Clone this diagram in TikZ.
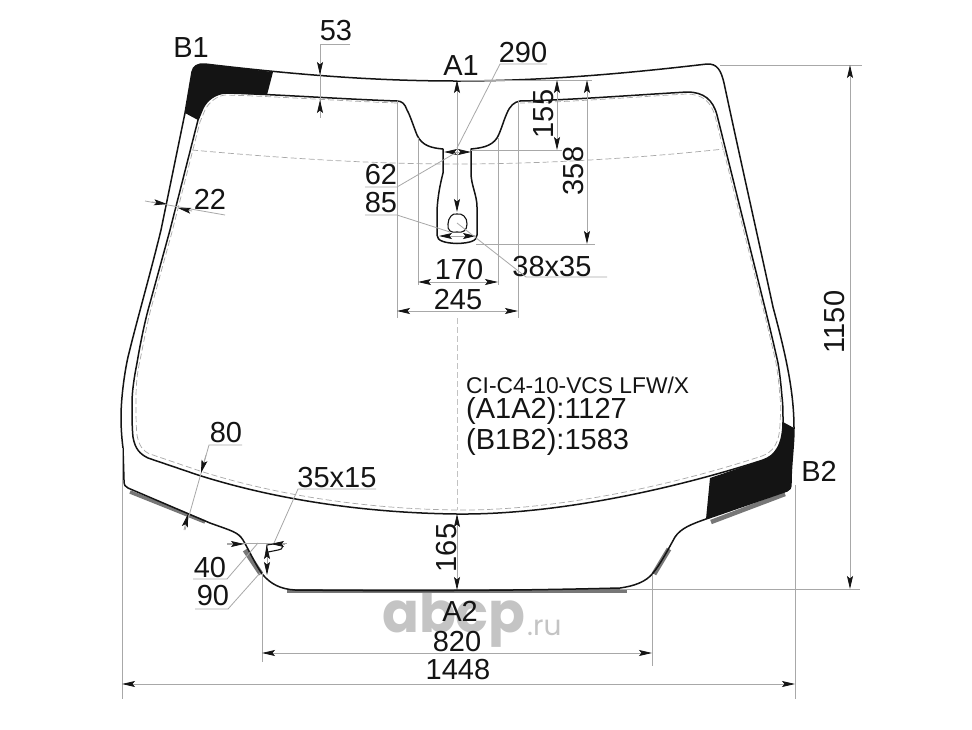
\documentclass[tikz,border=0pt]{standalone}
\usepackage{fontspec}
\setmainfont{Liberation Sans}
\newfontfamily\wmfont{Poppins}
\usetikzlibrary{arrows.meta}
\definecolor{dimgray}{HTML}{A8A8A8}
\definecolor{barcol}{HTML}{777777}
\definecolor{wmcol}{HTML}{C4C4C4}
\definecolor{blk}{HTML}{141414}
\tikzset{
 glass/.style={draw=blk,line width=1.5pt,line join=round},
 dimline/.style={draw=dimgray,line width=0.8pt},
 tip/.tip={Stealth[length=13pt,width=6pt,inset=2.5pt,color=blk]},
 both/.style={dimline,{tip}-{tip}},
 bar/.style={draw=barcol,line cap=butt},
 lbl/.style={font=\fontsize{29}{29}\selectfont,text=blk,inner sep=0pt},
 sml/.style={font=\fontsize{22.8}{23}\selectfont,text=blk,inner sep=0pt},
 fold/.style={draw=dimgray,line width=0.7pt,dash pattern=on 6pt off 3pt},
}
\begin{document}
\begin{tikzpicture}[x=1pt,y=-1pt]
\useasboundingbox (0,0) rectangle (972,729);
\fill[white] (0,0) rectangle (972,729);
% watermark
\node[inner sep=0pt,text=wmcol,anchor=base west,xscale=0.97,font=\wmfont\fontsize{56}{56}\selectfont\bfseries] (wm) at (382,632) {abcp};
\node[inner sep=0pt,text=wmcol,anchor=base west,font=\wmfont\fontsize{28}{28}\selectfont] (wmru) at (527,635) {.ru};
% dashed contours
\draw[fold] (192,150) .. controls (280,158) and (370,164) .. (457,164) .. controls (545,164) and (640,158) .. (724,149);
\draw[fold] (397,103) .. controls (340,101) and (270,96) .. (225,95) .. controls (217,96) and (209,102) .. (205,110) -- (200,122) -- (172,232) -- (152,305) .. controls (147,322) and (143,347) .. (139,365) .. controls (136,380) and (136,392) .. (136,403) .. controls (136,415) and (136,426) .. (137,435) .. controls (139,446) and (143,451) .. (150,454) -- (200,471) .. controls (282,497) and (372,509) .. (457,510) .. controls (560,511) and (680,483) .. (762,456) .. controls (773,452) and (780,443) .. (780,422) .. controls (781,410) and (781,405) .. (780,397) .. controls (779,385) and (778,375) .. (776,363) .. controls (772,345) and (766,320) .. (761,300) -- (715,116) .. controls (711,102) and (703,94) .. (686,94) .. controls (620,98) and (570,102) .. (520,103);
\draw[fold,draw=dimgray!70] (457,318) -- (457,510);
% black areas
\fill[blk] (273,72) -- (205,64) .. controls (198,63.5) and (193,66) .. (192,72) -- (185,113) -- (198,120) -- (203,108) .. controls (207,100) and (215,94) .. (225,93) -- (267,95) -- cycle;
\fill[blk] (706,519) -- (787,491) .. controls (790,490) and (791,488) .. (791,483) .. controls (791,465) and (794,445) .. (794,428) -- (783,422) .. controls (783,445) and (775,456) .. (763,460) -- (710,478) -- cycle;
% gray bars
\draw[bar,line width=3.5pt] (130,492) -- (205,522);
\draw[bar,line width=5pt] (245,550) -- (261,574);
\draw[bar,line width=3.5pt] (287,591) -- (627,591);
\draw[bar,line width=5pt] (654,574) -- (669,549);
\draw[bar,line width=4.5pt] (711,522) -- (785,494);
% outer contour
\draw[glass] (205,64) .. controls (290,74) and (370,81) .. (457,81) .. controls (545,81) and (630,73) .. (707,64) .. controls (717,63.5) and (721,70) .. (724,83) .. controls (740,158) and (757,233) .. (773,307) .. controls (785,352) and (794,390) .. (794,428) .. controls (794,445) and (791,465) .. (791,483) .. controls (791,488) and (790,490) .. (787,491) -- (706,519) .. controls (692,524) and (681,528) .. (675,537) .. controls (670,546) and (660,565) .. (653,573) .. controls (646,582) and (634,586) .. (620,588) .. controls (500,591) and (400,591) .. (295,590) .. controls (280,589) and (271,584) .. (263,575) .. controls (256,566) and (250,552) .. (243,540) .. controls (238,532) and (232,531) .. (210,523) -- (128,488) .. controls (125,487) and (124,485) .. (124,480) -- (123,448) .. controls (122,440) and (121,430) .. (121,417) .. controls (121,400) and (124,375) .. (128,357) .. controls (137,320) and (150,275) .. (161,230) -- (185,113) -- (192,72) .. controls (193,66) and (198,63.5) .. (205,64) -- cycle;
% inner contour
\draw[glass] (443,149) .. controls (432,148) and (422,146) .. (417,135) .. controls (413,125) and (410,115) .. (407,110) .. controls (405,104) and (402,101) .. (397,101) .. controls (340,99) and (270,94) .. (225,93) .. controls (215,94) and (207,100) .. (203,108) -- (198,120) -- (170,230) -- (150,303) .. controls (145,320) and (140,345) .. (137,363) .. controls (134,378) and (132,392) .. (132,403) .. controls (132,415) and (132,428) .. (133,437) .. controls (135,449) and (140,454) .. (148,458) -- (198,475) .. controls (280,501) and (370,513) .. (457,514) .. controls (560,515) and (680,487) .. (763,460) .. controls (775,456) and (783,445) .. (783,422) .. controls (783,412) and (783,405) .. (782,397) .. controls (781,385) and (780,375) .. (778,363) .. controls (774,345) and (768,320) .. (763,300) -- (717,115) .. controls (713,100) and (704,92) .. (687,92) .. controls (620,96) and (570,100) .. (520,101) .. controls (514,102) and (510,106) .. (507,113) .. controls (503,122) and (501,131) .. (497,138) .. controls (491,147) and (480,148) .. (471,149) -- (471,173) .. controls (471,185) and (477,195) .. (477,207) -- (477,235) .. controls (477,241) and (470,243) .. (457,243.5) .. controls (445,243) and (437,241) .. (437,235) -- (437,210) .. controls (438,195) and (440,185) .. (443,173) -- cycle;
% hole
\draw[draw=blk,line width=1.1pt] plot[smooth cycle,tension=0.8] coordinates {(457,214)(464,216)(467,224)(464,231)(457,232)(450,231)(448,224)(451,216)};
% small notch
\draw[draw=blk,line width=1.1pt] (266,553) -- (267,545) -- (279,543) .. controls (284,543) and (284,550) .. (278,550) -- (268,552);
% extension lines
\draw[dimline] (122,448) -- (122,699);
\draw[dimline] (795,485) -- (795,699);
\draw[dimline] (262,573) -- (262,662);
\draw[dimline] (652,575) -- (652,666);
\draw[dimline] (720,65) -- (862,65);
\draw[dimline] (620,589) -- (860,589);
\draw[dimline] (457,80) -- (592,80);
\draw[dimline] (471,150) -- (562,150);
\draw[dimline] (476,244) -- (595,244);
\draw[dimline] (418,138) -- (418,285);
\draw[dimline] (498,138) -- (498,285);
\draw[dimline] (397,101) -- (397,318);
\draw[dimline] (518,101) -- (518,318);
% dimension lines
\draw[both] (122,684) -- (795,684);
\draw[both] (262,653) -- (652,653);
\draw[both] (418,282) -- (498,282);
\draw[both] (397,311) -- (518,311);
\draw[both] (850,65) -- (850,589);
\draw[both] (557,80) -- (557,150);
\draw[both] (587,80) -- (587,244);
\draw[both] (457,80) -- (457,212);
\draw[both] (457,514) -- (457,590);
\draw[both] (444,152) -- (471,152);
\draw[both] (439,236) -- (476,236);
\draw[both] (267,546) -- (267,575);
% 53
\node[lbl] (t53) at (336,31) {53};
\draw[dimline] (350,44) -- (320,44) -- (320,118);
\draw[dimline,-{tip}] (320,60) -- (320,75);
\draw[dimline,-{tip}] (320,116) -- (320,100);
% 22
\node[lbl] (t22) at (210,199) {22};
\draw[dimline] (145,201) -- (225,215);
\draw[dimline,-{tip}] (152,202) -- (167,204);
\draw[dimline,-{tip}] (192,211) -- (178,208);
% 80
\node[lbl] (t80) at (226,433) {80};
\draw[dimline] (242,445) -- (209,445) -- (185,530);
\draw[dimline,-{tip}] (206,455) -- (201,473);
\draw[dimline,-{tip}] (184,530) -- (188,514);
% 35x15
\node[lbl] (t3515) at (337,478) {35x15};
\draw[dimline] (376,489) -- (298,489) -- (274,543);
\draw[dimline] (227,543) -- (287,543);
\draw[dimline,-{tip}] (227,544) -- (244,544);
\draw[dimline,-{tip}] (285,544) -- (271,544);
% 40 and 90
\node[lbl] (t40) at (210,568) {40};
\draw[dimline] (193,579) -- (227,579) -- (258,543);
\node[lbl] (t90) at (213,596) {90};
\draw[dimline] (195,609) -- (228,609) -- (260,573);
% 290, 62, 85, 38x35
\node[lbl] (t290) at (523,53) {290};
\draw[dimline] (547,64) -- (500,64) -- (457,148);
\node[lbl] (t62) at (381,175) {62};
\draw[dimline] (365,187) -- (397,187) -- (457,152);
\node[lbl] (t85) at (381,203) {85};
\draw[dimline] (365,215) -- (397,215) -- (450,232);
\node[lbl] (t3835) at (552,267) {38x35};
\draw[dimline] (607,277) -- (526,277) -- (457,223);
% labels
\node[lbl] (tB1) at (191,48) {B1};
\node[lbl] (tA1) at (461,66) {A1};
\node[lbl] (tB2) at (819,471) {B2};
\node[lbl] (tA2) at (460,611) {A2};
\node[lbl,rotate=90] (t155) at (544,114) {155};
\node[lbl,rotate=90] (t358) at (574,171) {358};
\node[lbl,rotate=90] (t165) at (447,548) {165};
\node[lbl,rotate=90] (t1150) at (835,322) {1150};
\node[lbl] (t170) at (459,270) {170};
\node[lbl] (t245) at (458,300) {245};
\node[lbl] (t820) at (457,642) {820};
\node[lbl] (t1448) at (458,670) {1448};
\node[sml,anchor=west] (tcode) at (466,385) {CI-C4-10-VCS LFW/X};
\node[lbl,anchor=west] (ta) at (466,411) {(A1A2):1127};
\node[lbl,anchor=west] (tb) at (466,442) {(B1B2):1583};
\end{tikzpicture}
\end{document}
